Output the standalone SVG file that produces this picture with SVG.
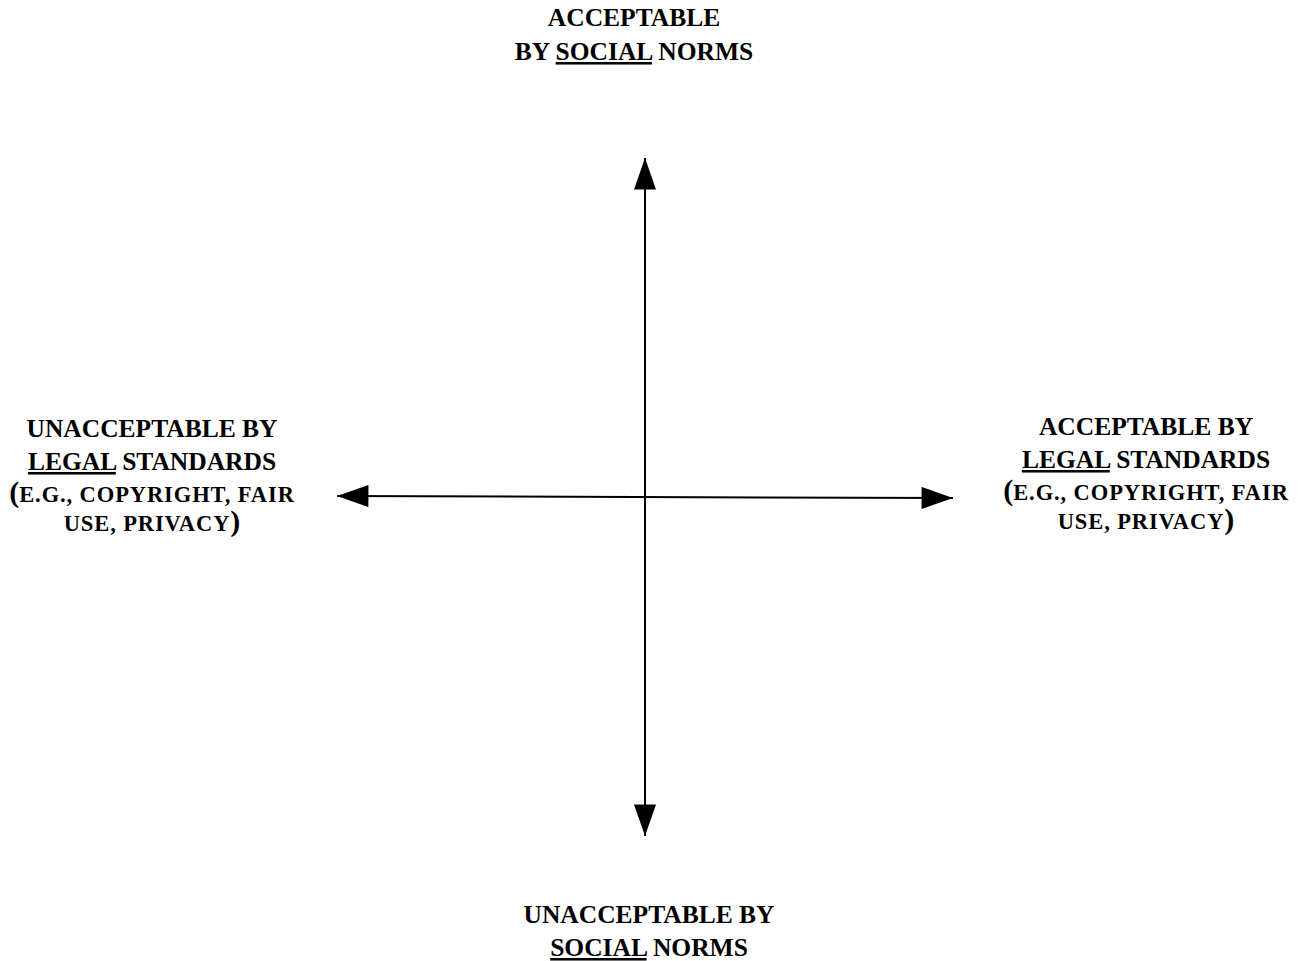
<svg xmlns="http://www.w3.org/2000/svg" width="1298" height="961" viewBox="0 0 1298 961">
<style>
.t{font-family:"Liberation Serif","Times New Roman",serif;font-weight:bold;font-size:25.5px;fill:#000;text-anchor:middle}
.sc{font-size:22.5px;letter-spacing:0.9px}
.p{font-size:30px;letter-spacing:0}
.u{text-decoration:underline}
.ax{stroke:#000;stroke-width:2;fill:none}
</style>
<defs>
<marker id="ah" markerUnits="userSpaceOnUse" markerWidth="32" markerHeight="22" viewBox="0 0 30 21" refX="30" refY="10.5" orient="auto-start-reverse">
<path d="M0,0 L30,10.5 L0,21 Z" fill="#000"/>
</marker>
</defs>
<g id="connectors">
<line class="ax" x1="645" y1="158" x2="645" y2="836" marker-start="url(#ah)" marker-end="url(#ah)"/>
<line class="ax" x1="337" y1="496" x2="953" y2="498" marker-start="url(#ah)" marker-end="url(#ah)"/>
</g>
<g id="top">
<text class="t" x="634" y="26">ACCEPTABLE</text>
<text class="t" x="634" y="60">BY <tspan class="u">SOCIAL</tspan> NORMS</text>
</g>
<g id="bottom">
<text class="t" x="649" y="923">UNACCEPTABLE BY</text>
<text class="t" x="649" y="956"><tspan class="u">SOCIAL</tspan> NORMS</text>
</g>
<g id="left">
<text class="t" x="152" y="437">UNACCEPTABLE BY</text>
<text class="t" x="152" y="470"><tspan class="u">LEGAL</tspan> STANDARDS</text>
<text class="t" x="152" y="502"><tspan class="p">(</tspan><tspan class="sc">E.G., COPYRIGHT, FAIR</tspan></text>
<text class="t" x="152" y="531"><tspan class="sc">USE, PRIVACY</tspan><tspan class="p">)</tspan></text>
</g>
<g id="right">
<text class="t" x="1146" y="435">ACCEPTABLE BY</text>
<text class="t" x="1146" y="468"><tspan class="u">LEGAL</tspan> STANDARDS</text>
<text class="t" x="1146" y="500"><tspan class="p">(</tspan><tspan class="sc">E.G., COPYRIGHT, FAIR</tspan></text>
<text class="t" x="1146" y="529"><tspan class="sc">USE, PRIVACY</tspan><tspan class="p">)</tspan></text>
</g>
</svg>
